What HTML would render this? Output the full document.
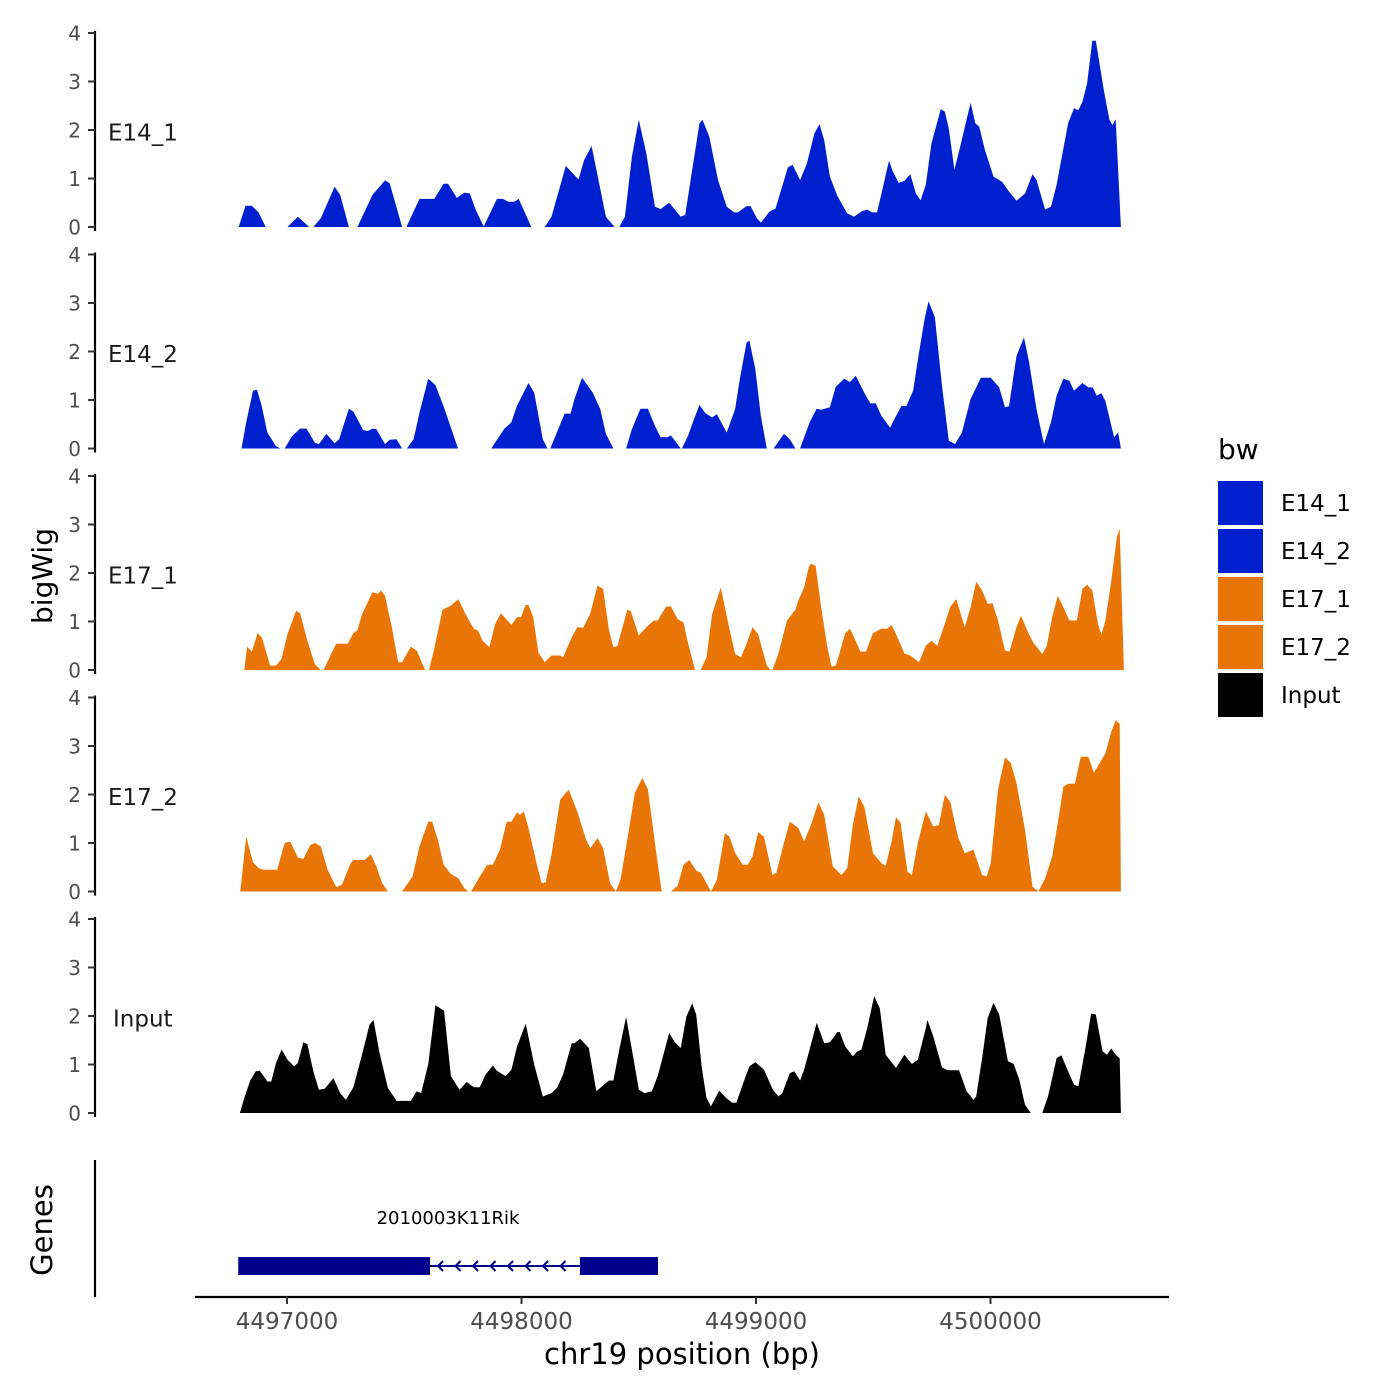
<!DOCTYPE html>
<html><head><meta charset="utf-8"><style>
html,body{margin:0;padding:0;background:#fff;}
svg{display:block;font-family:"DejaVu Sans","Liberation Sans",sans-serif;}
</style></head><body>
<svg id="chart" width="1400" height="1400" viewBox="0 0 1400 1400" xmlns="http://www.w3.org/2000/svg">
<rect x="0" y="0" width="1400" height="1400" fill="#fff"/>
<text transform="translate(52,576) rotate(-90)" text-anchor="middle" font-size="28" fill="#000">bigWig</text>
<text transform="translate(52,1230) rotate(-90)" text-anchor="middle" font-size="29" fill="#000">Genes</text>
<text x="682" y="1364" text-anchor="middle" font-size="29" fill="#000">chr19 position (bp)</text>
<text x="1218" y="459" font-size="28" fill="#000">bw</text>
<g id="panels"></g><g id="xaxis"></g><g id="genes"></g><g id="legend"></g>
</svg>
<script>
const NS="http://www.w3.org/2000/svg";
const seriesNames=["E14_1","E14_2","E17_1","E17_2","Input"];
const seriesColors=["#0020D0","#0020D0","#E87505","#E87505","#000000"];
const yTicks=[0,1,2,3,4];
const xTicks=[4497000,4498000,4499000,4500000];
const geneName="2010003K11Rik";
const geneStart=4496792, geneEnd=4498582;
const exonStarts=[4496792,4498249];
const exonEnds=[4497610,4498582];

const e14_1Pos=[4496794,4496823,4496850,4496879,4496909,null,4497002,4497046,4497095,4497112,4497144,4497203,4497227,4497264,4497300,4497364,4497418,4497438,4497491,4497509,4497565,4497628,4497668,4497687,4497724,4497756,4497780,4497805,4497839,4497895,4497920,4497944,4497969,4497988,4498042,null,4498099,4498128,4498189,4498218,4498243,4498267,4498299,4498360,4498397,4498417,4498441,4498471,4498500,4498532,4498569,4498593,4498630,4498679,4498698,4498728,4498759,4498772,4498801,4498838,4498875,4498906,4498923,4498960,4498977,4499004,4499021,4499058,4499083,4499107,4499136,4499156,4499188,4499217,4499249,4499271,4499291,4499315,4499347,4499389,4499418,4499450,4499474,4499494,4499516,4499535,4499567,4499584,4499609,4499633,4499658,4499682,4499702,4499724,4499748,4499788,4499805,4499822,4499846,4499871,4499915,4499935,4499952,4499976,4500013,4500050,4500074,4500111,4500147,4500179,4500196,4500233,4500258,4500282,4500307,4500331,4500356,4500375,4500392,4500412,4500434,4500449,4500458,4500483,4500507,4500520,4500534,4500556];
const e14_1Val=[0,0.44,0.44,0.30,0,null,0,0.21,0,0,0.18,0.83,0.66,0,0,0.66,0.96,0.90,0,0,0.58,0.58,0.89,0.89,0.60,0.71,0.69,0.35,0.01,0.58,0.58,0.52,0.52,0.58,0,null,0,0.21,1.26,1.11,0.98,1.38,1.67,0.21,0,0,0.21,1.45,2.21,1.52,0.42,0.37,0.50,0.21,0.25,1.18,2.14,2.21,1.86,0.97,0.42,0.30,0.30,0.43,0.43,0.18,0.09,0.32,0.38,0.76,1.23,1.28,0.97,1.31,1.93,2.12,1.79,1.04,0.64,0.28,0.21,0.32,0.36,0.30,0.30,0.69,1.37,1.14,0.91,0.95,1.09,0.69,0.55,0.87,1.72,2.43,2.38,2.03,1.18,1.66,2.56,2.14,2.07,1.59,1.04,0.93,0.76,0.54,0.69,1.09,0.97,0.36,0.42,0.87,1.52,2.14,2.45,2.41,2.58,2.96,3.84,3.84,3.58,2.82,2.21,2.10,2.22,0];

const e14_2Pos=[4496806,4496826,4496855,4496872,4496892,4496916,4496953,4496972,null,4496990,4497021,4497056,4497083,4497119,4497136,4497168,4497203,4497222,4497264,4497283,4497325,4497345,4497364,4497381,4497418,4497438,4497467,4497491,4497511,4497540,4497565,4497602,4497633,4497668,4497699,4497729,null,4497871,4497927,4497957,4497981,4498030,4498054,4498091,4498111,4498123,4498184,4498209,4498226,4498258,4498304,4498336,4498360,4498392,null,4498446,4498471,4498507,4498539,4498569,4498593,4498622,4498637,4498679,4498684,4498711,4498735,4498759,4498784,4498813,4498833,4498875,4498911,4498931,4498960,4498972,4498997,4499021,4499046,null,4499075,4499119,4499144,4499168,4499188,4499229,4499259,4499278,4499315,4499340,4499376,4499401,4499425,4499462,4499487,4499511,4499535,4499572,4499597,4499621,4499641,4499670,4499695,4499719,4499736,4499763,4499793,4499822,4499849,4499878,4499915,4499959,4500001,4500037,4500062,4500079,4500111,4500143,4500165,4500196,4500228,4500258,4500282,4500311,4500336,4500356,4500392,4500417,4500436,4500453,4500473,4500490,4500527,4500544,4500556];
const e14_2Val=[0,0.54,1.19,1.21,0.88,0.33,0.05,0,null,0,0.25,0.41,0.41,0.12,0.09,0.30,0.11,0.19,0.82,0.76,0.38,0.36,0.41,0.40,0.09,0.18,0.19,0,0,0.19,0.74,1.44,1.31,0.87,0.43,0,null,0,0.41,0.54,0.88,1.35,1.15,0.19,0,0,0.72,0.72,1.02,1.46,1.15,0.81,0.30,0,null,0,0.40,0.82,0.82,0.47,0.23,0.23,0.27,0,0,0.27,0.60,0.90,0.73,0.64,0.71,0.33,0.81,1.43,2.19,2.22,1.64,0.67,0,null,0,0.30,0.19,0,0,0.54,0.82,0.80,0.85,1.27,1.44,1.37,1.50,1.15,0.93,0.93,0.67,0.43,0.67,0.88,0.87,1.19,1.98,2.67,3.04,2.70,1.29,0.16,0.09,0.33,1.02,1.46,1.46,1.26,0.85,0.87,1.91,2.29,1.77,0.81,0.09,0.54,1.09,1.44,1.40,1.19,1.35,1.26,1.26,1.09,1.14,0.98,0.23,0.33,0];

const e17_1Pos=[4496818,4496830,4496850,4496875,4496894,4496928,4496953,4496977,4497002,4497039,4497056,4497087,4497119,4497144,null,4497156,4497185,4497210,4497259,4497283,4497300,4497320,4497364,4497389,4497401,4497418,4497447,4497474,4497491,4497528,4497553,4497589,null,4497606,4497626,4497663,4497699,4497731,4497761,4497797,4497815,4497834,4497863,4497888,4497912,4497957,4497981,4497998,4498018,4498030,4498050,4498072,4498099,4498128,4498165,4498177,4498214,4498238,4498263,4498292,4498324,4498348,4498373,4498392,4498409,4498427,4498451,4498466,4498500,4498532,4498564,4498581,4498617,4498637,4498666,4498691,4498708,4498740,null,4498764,4498789,4498813,4498850,4498882,4498911,4498936,4498960,4498985,4499009,4499046,4499063,4499070,4499095,4499132,4499168,4499181,4499205,4499225,4499234,4499254,4499278,4499303,4499322,4499340,4499352,4499381,4499401,4499425,4499445,4499469,4499499,4499535,4499560,4499577,4499597,4499633,4499658,4499695,4499724,4499748,4499773,4499805,4499829,4499854,4499890,4499915,4499939,4499964,4499988,4500008,4500032,4500062,4500081,4500111,4500130,4500160,4500184,4500221,4500240,4500263,4500287,4500311,4500336,4500368,4500392,4500412,4500434,4500458,4500473,4500490,4500515,4500539,4500551,4500569];
const e17_1Val=[0,0.48,0.38,0.76,0.66,0.09,0.09,0.23,0.74,1.22,1.17,0.60,0.12,0,null,0,0.30,0.54,0.54,0.76,0.82,1.15,1.60,1.57,1.64,1.53,0.88,0.16,0.16,0.48,0.40,0,null,0,0.40,1.24,1.33,1.46,1.15,0.85,0.81,0.60,0.47,0.95,1.17,0.93,1.09,1.09,1.34,1.34,1.09,0.36,0.16,0.30,0.30,0.26,0.67,0.88,0.87,1.15,1.74,1.67,0.81,0.47,0.50,0.81,1.24,1.21,0.71,0.88,1.02,1.02,1.31,1.31,1.05,0.98,0.60,0,null,0,0.26,1.15,1.70,0.95,0.33,0.26,0.54,0.88,0.74,0.09,0,0,0.33,1.02,1.24,1.44,1.70,2.13,2.19,2.15,1.29,0.50,0.07,0.09,0.27,0.76,0.85,0.60,0.38,0.38,0.76,0.85,0.85,0.93,0.74,0.34,0.30,0.16,0.50,0.60,0.50,0.95,1.31,1.46,0.88,1.29,1.82,1.64,1.36,1.38,1.02,0.40,0.38,0.88,1.12,0.78,0.55,0.33,0.50,1.09,1.53,1.29,1.02,1.02,1.67,1.76,1.64,0.95,0.73,1.02,1.84,2.74,2.91,0];

const e17_2Pos=[4496801,4496826,4496855,4496879,4496899,4496958,4496990,4497014,4497046,4497070,4497100,4497119,4497144,4497173,4497210,4497234,4497271,4497283,4497332,4497357,4497381,4497406,4497430,null,4497491,4497535,4497565,4497602,4497619,4497643,4497668,4497699,4497731,4497756,4497773,4497785,4497822,4497854,4497878,4497908,4497937,4497957,4497981,4497993,4498010,4498030,4498067,4498086,4498103,4498128,4498165,4498201,4498238,4498275,4498294,4498324,4498348,4498378,4498402,4498422,4498458,4498483,4498515,4498539,4498569,4498598,null,4498637,4498666,4498691,4498715,4498745,4498764,4498808,4498833,4498867,4498887,4498911,4498943,4498965,4498985,4499009,4499034,4499070,4499087,4499119,4499144,4499181,4499205,4499234,4499266,4499291,4499327,4499364,4499389,4499413,4499438,4499462,4499499,4499535,4499553,4499577,4499597,4499616,4499646,4499665,4499690,4499724,4499756,4499780,4499805,4499829,4499861,4499890,4499927,4499964,4499984,4500001,4500032,4500062,4500086,4500111,4500147,4500179,4500204,4500233,4500263,4500294,4500311,4500331,4500360,4500385,4500417,4500441,4500466,4500490,4500515,4500534,4500551,4500556];
const e17_2Val=[0,1.13,0.60,0.48,0.45,0.45,1.00,1.03,0.70,0.67,0.96,1.00,0.93,0.45,0.09,0.14,0.58,0.65,0.65,0.77,0.52,0.17,0,null,0,0.31,0.93,1.44,1.44,1.07,0.55,0.36,0.27,0.07,0,0,0.31,0.55,0.55,0.86,1.44,1.44,1.63,1.58,1.65,1.31,0.52,0.17,0.19,0.76,1.89,2.10,1.65,1.07,0.89,1.10,0.89,0.17,0,0.24,1.27,2.03,2.34,2.11,1.00,0,null,0,0.12,0.55,0.65,0.43,0.39,0,0.24,1.20,1.13,0.80,0.55,0.55,0.72,1.22,1.13,0.34,0.39,1.00,1.44,1.31,1.03,1.37,1.84,1.58,0.52,0.34,0.48,1.37,1.96,1.75,0.79,0.58,0.53,1.00,1.53,1.42,0.41,0.34,1.00,1.65,1.34,1.37,1.99,1.84,1.13,0.79,0.86,0.34,0.31,0.58,2.10,2.77,2.65,2.23,1.27,0.10,0,0.27,0.72,1.62,2.16,2.22,2.22,2.78,2.78,2.45,2.65,2.85,3.29,3.53,3.46,0];

const inputPos=[4496799,4496818,4496843,4496867,4496884,4496916,4496933,4496953,4496977,4497002,4497031,4497046,4497070,4497087,4497112,4497136,4497161,4497198,4497227,4497251,4497283,4497320,4497352,4497369,4497393,4497430,4497467,4497528,4497553,4497572,4497602,4497633,4497670,4497699,4497736,4497766,4497797,4497822,4497846,4497878,4497895,4497932,4497957,4497981,4498018,4498054,4498091,4498128,4498152,4498177,4498214,4498226,4498250,4498287,4498319,4498373,4498392,4498417,4498446,4498471,4498500,4498525,4498556,4498581,4498613,4498630,4498654,4498679,4498703,4498728,4498745,4498769,4498789,4498808,4498843,4498875,4498899,4498916,4498948,4498972,4498997,4499034,4499070,4499095,4499112,4499144,4499163,4499188,4499205,4499234,4499259,4499291,4499315,4499347,4499357,4499381,4499413,4499430,4499450,4499474,4499504,4499528,4499553,4499597,4499633,4499665,4499690,4499724,4499731,4499756,4499793,4499817,4499866,4499898,4499927,4499939,4499964,4499988,4500013,4500037,4500074,4500099,4500123,4500147,4500172,null,4500221,4500245,4500282,4500302,4500331,4500356,4500375,4500404,4500429,4500449,4500478,4500497,4500515,4500534,4500551,4500556];
const inputVal=[0,0.31,0.67,0.86,0.87,0.65,0.65,1.03,1.31,1.10,0.96,1.03,1.46,1.42,0.86,0.48,0.50,0.72,0.41,0.27,0.53,1.20,1.82,1.92,1.27,0.52,0.25,0.25,0.45,0.41,1.00,2.22,2.11,0.76,0.48,0.64,0.53,0.53,0.79,0.98,0.87,0.76,0.89,1.37,1.84,1.00,0.34,0.41,0.52,0.79,1.44,1.44,1.53,1.34,0.45,0.67,0.67,1.31,1.98,1.31,0.48,0.41,0.45,0.76,1.34,1.65,1.46,1.34,1.99,2.26,2.03,0.93,0.31,0.14,0.46,0.30,0.21,0.21,0.65,0.96,1.05,0.89,0.50,0.34,0.41,0.82,0.86,0.67,0.89,1.41,1.86,1.44,1.46,1.67,1.67,1.37,1.17,1.26,1.31,1.75,2.41,2.16,1.20,0.93,1.20,1.01,1.10,1.75,1.92,1.58,0.94,0.88,0.88,0.45,0.27,0.34,1.13,1.96,2.27,2.03,1.07,1.01,0.69,0.17,0,null,0,0.34,1.13,1.19,0.86,0.58,0.55,1.31,2.05,2.03,1.27,1.20,1.33,1.20,1.13,0];

const allPos=[e14_1Pos,e14_2Pos,e17_1Pos,e17_2Pos,inputPos];
const allVal=[e14_1Val,e14_2Val,e17_1Val,e17_2Val,inputVal];

// axis functions
const xScale=bp=>287+(bp-4497000)*0.2345;
const panelBase=p=>227+221.5*p;
const yScale=(p,v)=>panelBase(p)-v*48.5;

function mk(tag,attrs,parent){const e=document.createElementNS(NS,tag);for(const k in attrs)e.setAttribute(k,attrs[k]);parent.appendChild(e);return e;}

const panels=document.getElementById('panels');
for(let p=0;p<5;p++){
  const g=mk('g',{},panels);
  
  
  const pos=allPos[p],val=allVal[p];
  let seg=[];
  const flush=()=>{
    if(seg.length>1){
      let d='M'+xScale(seg[0][0]).toFixed(1)+','+panelBase(p);
      seg.forEach(s=>{d+=' L'+xScale(s[0]).toFixed(1)+','+yScale(p,s[1]).toFixed(1);});
      d+=' L'+xScale(seg[seg.length-1][0]).toFixed(1)+','+panelBase(p)+' Z';
      const a=mk('path',{d:d,fill:seriesColors[p],stroke:'none'},g);
      
      
    }
    seg=[];
  };
  for(let i=0;i<pos.length;i++){
    if(pos[i]===null||val[i]===null){flush();continue;}
    seg.push([pos[i],val[i]]);
  }
  flush();
  const ax=mk('line',{x1:95,x2:95,y1:yScale(p,4)-2,y2:panelBase(p)+4,stroke:'#000','stroke-width':2.2},g);
  
  
  yTicks.forEach(t=>{
    const y=yScale(p,t);
    const tl=mk('line',{x1:88,x2:95,y1:y,y2:y,stroke:'#333','stroke-width':2},g);
    
    
    const tx=mk('text',{x:81,y:y+7.5,'text-anchor':'end','font-size':20,fill:'#4d4d4d'},g);
    tx.textContent=t;
    
    
  });
  const lab=mk('text',{x:p===4?113:108,y:yScale(p,1.95)+8,'font-size':23,fill:'#1a1a1a'},g);
  lab.textContent=seriesNames[p];
  
  
}

const xa=document.getElementById('xaxis');
const xl=mk('line',{x1:195,x2:1169,y1:1297,y2:1297,stroke:'#000','stroke-width':2.2},xa);


xTicks.forEach(t=>{
  const x=xScale(t);
  const tl=mk('line',{x1:x,x2:x,y1:1297,y2:1304,stroke:'#333','stroke-width':2},xa);
  
  
  const tx=mk('text',{x:x,y:1329,'text-anchor':'middle','font-size':23,fill:'#4d4d4d'},xa);
  tx.textContent=t;
  
  
});

const gg=document.getElementById('genes');
const gl=mk('line',{x1:95,x2:95,y1:1160,y2:1297,stroke:'#000','stroke-width':2.2},gg);


const intron=mk('line',{x1:xScale(exonEnds[0]),x2:xScale(exonStarts[1]),y1:1266,y2:1266,stroke:'#00008B','stroke-width':2},gg);


for(let x=xScale(exonEnds[0])+8;x<xScale(exonStarts[1])-4;x+=17.5){
  const ar=mk('path',{d:`M${x+5},1261 L${x},1266 L${x+5},1271`,fill:'none',stroke:'#00008B','stroke-width':2},gg);
  
  
}
for(let i=0;i<exonStarts.length;i++){
  const r=mk('rect',{x:xScale(exonStarts[i]),y:1257,width:xScale(exonEnds[i])-xScale(exonStarts[i]),height:18,fill:'#00008B'},gg);
  
  
}
const gt=mk('text',{x:448,y:1224,'text-anchor':'middle','font-size':18,fill:'#000'},gg);
gt.textContent=geneName;



const lg=document.getElementById('legend');
seriesNames.forEach((n,i)=>{
  const y=481+48*i;
  const r=mk('rect',{x:1218,y:y,width:45,height:44,fill:seriesColors[i]},lg);
  
  
  const t=mk('text',{x:1281,y:y+30,'font-size':23,fill:'#000'},lg);
  t.textContent=n;
  
  
});
</script>
</body></html>
